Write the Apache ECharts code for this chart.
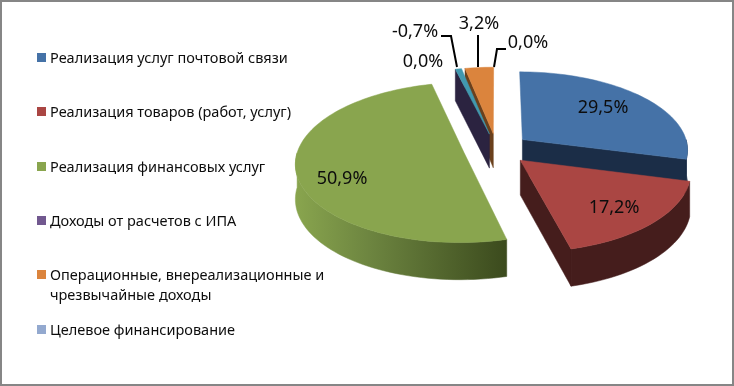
<!DOCTYPE html>
<html><head><meta charset="utf-8">
<script src="https://cdn.jsdelivr.net/npm/echarts@6/dist/echarts.min.js"></script>
<style>html,body{margin:0;padding:0;background:#fff}#c{width:734px;height:386px}</style>
</head><body><div id="c"></div>
<script>
// ---- data ----
var categories = ['Реализация услуг почтовой связи','Реализация товаров (работ, услуг)','Реализация финансовых услуг','Доходы от расчетов с ИПА','','Операционные, внереализационные и\nчрезвычайные доходы','Целевое финансирование'];
var values = [29.5, 17.2, 50.9, 0.0, -0.7, 3.2, 0.0];
var labels = ['29,5%','17,2%','50,9%','0,0%','-0,7%','3,2%','0,0%'];

// ---- styles ----
var topColors  = ['#4572A7','#AA4643','#89A54E','#71588F','#4198AF','#DB843D','#93A9CF'];
var wallColors = ['#1B2D47','#451D1C','#3D4A1F','#2B2340','#2B2340','#6B401C','#3A4560'];
var drawRank   = [4,5,3,0,2,1,0];
var legendY    = [58,112,167,221,275,330];
var legendOf   = [0,1,2,3,-1,4,5];
// value-label anchor, leader bend and end, in px
var labelPos = [[603,108],[614,208],[342,179],[423,62],[415,32],[479,24],[528,43]];
var leaders  = [null,null,null,null,[[457,67],[451,36],[441,36]],[[478,67],[478,35]],[[494,67],[497,49],[506,49]]];

// ---- projection of the tilted, exploded disc ----
var CX=496.5, CY=149, A=166, B=78, K=0.12, EXPLODE=0.2, DEPTH=34.5, DEPTH_K=2.5;
var rad=Math.PI/180;
function proj(X,Y,down){
  var w=1+K*Y;
  return [CX+A*X/w, CY-B*Y/w+(down?DEPTH-DEPTH_K*Y:0)];
}
var total=values.reduce(function(s,v){return s+Math.abs(v)},0);
function sliceAngles(i){
  var s=0; for(var j=0;j<i;j++) s+=Math.abs(values[j]);
  return [s/total*360,(s+Math.abs(values[i]))/total*360];
}
function renderSlice(params,api){
  var i=params.dataIndex, v=Math.abs(api.value(1));
  var kids=[], rank=drawRank[i]*10;
  if(v>0){
    var a=sliceAngles(i), t0=a[0], t1=a[1], mid=(t0+t1)/2;
    var ox=EXPLODE*Math.sin(mid*rad), oy=EXPLODE*Math.cos(mid*rad);
    var rim=function(t,down){return proj(ox+Math.sin(t*rad),oy+Math.cos(t*rad),down)};
    var apex=function(down){return proj(ox,oy,down)};
    var poly=function(pts,fill,z){kids.push({type:'polygon',z2:rank+z,shape:{points:pts},style:{fill:fill,stroke:fill,lineWidth:0.5}})};
    // cut faces, only where they face the viewer
    if(Math.sin(t0*rad)<0) poly([apex(false),rim(t0,false),rim(t0,true),apex(true)],wallColors[i===4?3:i],0);
    if(Math.sin(t1*rad)>0) poly([apex(false),rim(t1,false),rim(t1,true),apex(true)],wallColors[i],0);
    // outer wall, front half only
    var f0=Math.max(t0,90), f1=Math.min(t1,270);
    if(f1>f0){
      var up=[],dn=[];
      for(var t=f0;;t+=2){ var tt=Math.min(t,f1); up.push(rim(tt,false)); dn.unshift(rim(tt,true)); if(tt>=f1)break; }
      var fill=wallColors[i];
      if(i===2) fill=new echarts.graphic.LinearGradient(0,0,1,0,[{offset:0,color:'#89A54E'},{offset:0.35,color:'#6D8540'},{offset:1,color:'#3B4A1D'}]);
      poly(up.concat(dn),fill,1);
    }
    // top surface
    var pts=[apex(false)];
    for(var t=t0;;t+=2){ var tt=Math.min(t,t1); pts.push(rim(tt,false)); if(tt>=t1)break; }
    poly(pts,topColors[i],2);
  }
  // leader line and value label
  if(leaders[i]) kids.push({type:'polyline',z2:200,shape:{points:leaders[i]},style:{fill:null,stroke:'#000',lineWidth:2}});
  kids.push({type:'text',z2:201,style:{text:labels[i],x:labelPos[i][0],y:labelPos[i][1],align:'center',verticalAlign:'middle',font:'18px "Noto Sans"',fill:'#0d0d0d'}});
  return {type:'group',children:kids};
}
// ---- legend ----
var legendEls=[];
categories.forEach(function(name,i){
  if(legendOf[i]<0) return;
  var y=legendY[legendOf[i]];
  legendEls.push({type:'rect',left:37,top:y-5,shape:{width:9,height:9},style:{fill:topColors[i]}});
  name.split('\n').forEach(function(line,n){
    legendEls.push({type:'text',left:50,top:y-7+n*20,style:{text:line,font:'14.5px "Noto Sans"',fill:'#0d0d0d'}});
  });
});
legendEls.push({type:'rect',left:0,top:0,z:-1,shape:{x:1,y:1,width:732,height:384},style:{fill:'#fff',stroke:'#868686',lineWidth:2}});

var chart=echarts.init(document.getElementById('c'),null,{renderer:'canvas'});
chart.setOption({
  animation:false,
  backgroundColor:'#fff',
  graphic:{elements:legendEls},
  series:[{type:'custom',coordinateSystem:'none',renderItem:renderSlice,silent:true,
    data:values.map(function(v,i){return [i,v]})}]
});
</script></body></html>
